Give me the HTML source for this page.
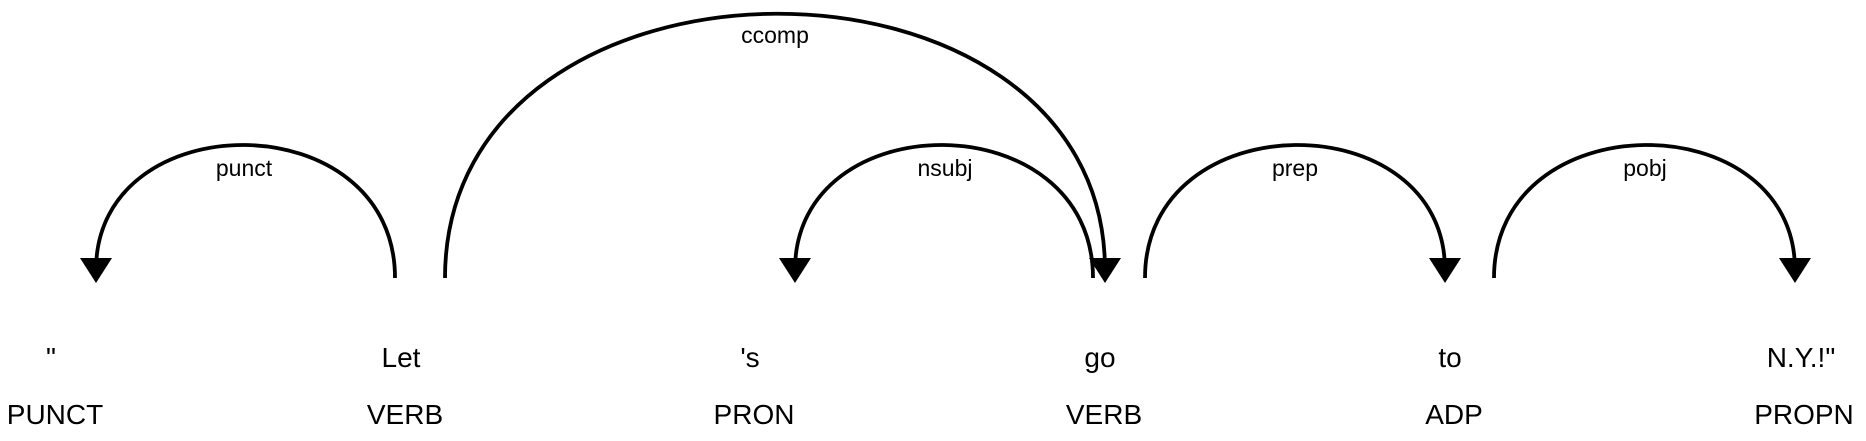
<!DOCTYPE html>
<html><head><meta charset="utf-8"><style>
html,body{margin:0;padding:0;background:#fff;}
svg{display:block;font-family:"Liberation Sans",Arial,sans-serif;}
</style></head><body>
<svg width="1866" height="441" viewBox="0 0 1866 441" xmlns="http://www.w3.org/2000/svg">
<g font-size="28" text-anchor="middle" fill="#000">
<text x="51" y="367">"</text><text x="55" y="424">PUNCT</text>
<text x="401" y="367">Let</text><text x="405" y="424">VERB</text>
<text x="750" y="367">'s</text><text x="754" y="424">PRON</text>
<text x="1100" y="367">go</text><text x="1104" y="424">VERB</text>
<text x="1450" y="367">to</text><text x="1454" y="424">ADP</text>
<text x="1801" y="367">N.Y.!"</text><text x="1804" y="424">PROPN</text>
</g>
<g fill="none" stroke="#000" stroke-width="3.8">
<path d="M395,278 C395,102 96,102 96,270"/>
<path d="M445,278 C445,-73 1105,-73 1105,270"/>
<path d="M1093,278 C1093,102 795,102 795,270"/>
<path d="M1145,278 C1145,102 1445,102 1445,270"/>
<path d="M1494,278 C1494,102 1795,102 1795,270"/>
</g>
<g fill="#000">
<path d="M96,283 L80,258 L112,258 Z"/>
<path d="M1105,283 L1089,258 L1121,258 Z"/>
<path d="M795,283 L779,258 L811,258 Z"/>
<path d="M1445,283 L1429,258 L1461,258 Z"/>
<path d="M1795,283 L1779,258 L1811,258 Z"/>
</g>
<g font-size="23" text-anchor="middle" fill="#000">
<text x="244" y="176">punct</text>
<text x="775" y="43">ccomp</text>
<text x="945" y="176">nsubj</text>
<text x="1295" y="176">prep</text>
<text x="1645" y="176">pobj</text>
</g>
</svg>
</body></html>
